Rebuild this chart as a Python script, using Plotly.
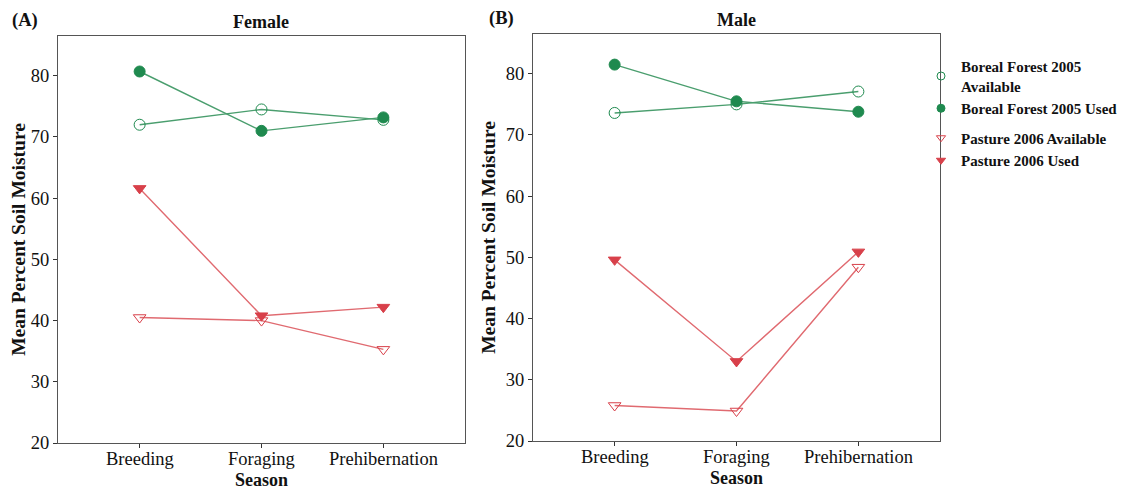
import plotly.graph_objects as go

seasons = ["Breeding", "Foraging", "Prehibernation"]

female_bf_available = [72.0, 74.5, 72.8]
female_bf_used = [80.7, 71.0, 73.2]
female_pasture_available = [40.5, 40.0, 35.3]
female_pasture_used = [61.6, 40.8, 42.2]

male_bf_available = [73.6, 75.0, 77.1]
male_bf_used = [81.5, 75.5, 73.8]
male_pasture_available = [25.8, 24.9, 48.4]
male_pasture_used = [49.6, 33.0, 50.9]

series_names = ["<b>Boreal Forest 2005<br>Available</b>", "<b>Boreal Forest 2005 Used</b>",
                "<b>Pasture 2006 Available</b>", "<b>Pasture 2006 Used</b>"]
groups = ["bf", "bf", "pa", "pa"]

GREEN = "#1f8a4f"
GREEN_LINE = "#4a9e6e"
RED = "#d8404a"
RED_LINE = "#e06a70"
FONT = "Liberation Serif"

styles = [
    dict(color=GREEN, line=GREEN_LINE, symbol="circle-open"),
    dict(color=GREEN, line=GREEN_LINE, symbol="circle"),
    dict(color=RED, line=RED_LINE, symbol="triangle-down-open"),
    dict(color=RED, line=RED_LINE, symbol="triangle-down"),
]

fig = go.Figure()
female = [female_bf_available, female_bf_used, female_pasture_available, female_pasture_used]
male = [male_bf_available, male_bf_used, male_pasture_available, male_pasture_used]

for panel, (xa, ya) in zip([female, male], [("x", "y"), ("x2", "y2")]):
    for i, (vals, st) in enumerate(zip(panel, styles)):
        fig.add_trace(go.Scatter(
            x=seasons, y=vals, mode="lines+markers", name=series_names[i],
            line=dict(color=st["line"], width=1.4),
            marker=dict(symbol=st["symbol"], size=11, color=st["color"],
                        line=dict(color=st["color"], width=1)),
            xaxis=xa, yaxis=ya, showlegend=False))

# legend entries (markers only)
for i, st in enumerate(styles):
    fig.add_trace(go.Scatter(
        x=[None], y=[None], mode="markers", name=series_names[i],
        legendgroup=groups[i],
        marker=dict(symbol=st["symbol"], size=8, color=st["color"],
                    line=dict(color=st["color"], width=1)),
        xaxis="x2", yaxis="y2", showlegend=True))

# the page body has an 8px margin, so the figure starts at (8, 8) in the window
OFF = 8
W, H = 1128 - OFF, 489 - OFF
def px(x): return (x - OFF) / W
def py(y): return 1 - (y - OFF) / H

TXT = "#111111"
axis_common = dict(showgrid=False, zeroline=False, showline=True, mirror=True,
                   linecolor="#555555", linewidth=1, ticks="outside", ticklen=4,
                   tickcolor="#333333", automargin=False,
                   tickfont=dict(family=FONT, size=18.5, color=TXT))
xcommon = dict(axis_common, type="category", range=[-0.67, 2.67], showticklabels=False)
ycommon = dict(axis_common, range=[20, 86.5], tickvals=[20, 30, 40, 50, 60, 70, 80],
               title=dict(text="<b>Mean Percent Soil Moisture</b>",
                          font=dict(family=FONT, size=19.5, color=TXT), standoff=4))

fig.update_layout(
    width=W, height=H,
    margin=dict(l=0, r=0, t=0, b=0),
    paper_bgcolor="white", plot_bgcolor="white",
    xaxis=dict(xcommon, domain=[px(58), px(465)], anchor="y"),
    yaxis=dict(ycommon, domain=[py(443), py(36)], anchor="x"),
    xaxis2=dict(xcommon, domain=[px(533), px(940)], anchor="y2"),
    yaxis2=dict(ycommon, domain=[py(441), py(34)], anchor="x2"),
    legend=dict(x=px(921), y=py(50), xanchor="left", yanchor="top",
                font=dict(family=FONT, size=15, color=TXT),
                bgcolor="rgba(0,0,0,0)", itemwidth=30, tracegroupgap=7,
                groupclick="toggleitem"),
    font=dict(family=FONT),
)

# category tick labels, placed on the category axes
for xref, ylab in [("x", 459), ("x2", 457)]:
    for s in seasons:
        fig.add_annotation(text=s, x=s, xref=xref, y=py(ylab), yref="paper",
                           xanchor="center", yanchor="middle", showarrow=False,
                           font=dict(family=FONT, size=18.5, color=TXT))

ann_font = dict(family=FONT, size=18.5, color=TXT)
fig.add_annotation(text="<b>(A)</b>", x=px(10), y=py(20), xref="paper", yref="paper",
                   xanchor="left", yanchor="middle", showarrow=False, font=ann_font)
fig.add_annotation(text="<b>(B)</b>", x=px(487), y=py(18), xref="paper", yref="paper",
                   xanchor="left", yanchor="middle", showarrow=False, font=ann_font)
fig.add_annotation(text="<b>Female</b>", x=px(261), y=py(22), xref="paper", yref="paper",
                   xanchor="center", yanchor="middle", showarrow=False,
                   font=dict(family=FONT, size=18, color=TXT))
fig.add_annotation(text="<b>Male</b>", x=px(736), y=py(20), xref="paper", yref="paper",
                   xanchor="center", yanchor="middle", showarrow=False,
                   font=dict(family=FONT, size=18, color=TXT))
fig.add_annotation(text="<b>Season</b>", x=px(261), y=py(479.5), xref="paper", yref="paper",
                   xanchor="center", yanchor="middle", showarrow=False,
                   font=dict(family=FONT, size=18, color=TXT))
fig.add_annotation(text="<b>Season</b>", x=px(736), y=py(478), xref="paper", yref="paper",
                   xanchor="center", yanchor="middle", showarrow=False,
                   font=dict(family=FONT, size=18, color=TXT))

fig.write_html("out.html")
